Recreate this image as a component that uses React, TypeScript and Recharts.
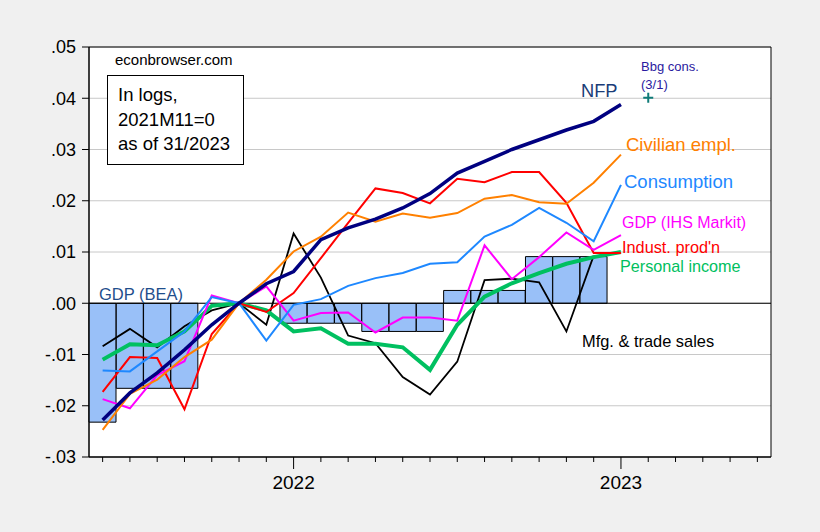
import React from "react";
import {
  ComposedChart,
  Bar,
  Line,
  XAxis,
  YAxis,
  CartesianGrid,
  ReferenceLine,
  ReferenceArea,
} from "recharts";

// monthly categories, 2021M06 .. 2023M06
const months = [
  "2021M06", "2021M07", "2021M08", "2021M09", "2021M10", "2021M11", "2021M12",
  "2022M01", "2022M02", "2022M03", "2022M04", "2022M05", "2022M06",
  "2022M07", "2022M08", "2022M09", "2022M10", "2022M11", "2022M12",
  "2023M01", "2023M02", "2023M03", "2023M04", "2023M05", "2023M06",
];

// GDP (BEA), quarterly level repeated over its months
const gdpBea = [
  -0.0232, -0.0166, -0.0166, -0.0166, 0, 0, 0,
  -0.0039, -0.0039, -0.0039, -0.0055, -0.0055, -0.0055,
  0.0025, 0.0025, 0.0025, 0.0091, 0.0091, 0.0091,
];
const nfp = [
  -0.0228, -0.0175, -0.0136, -0.0091, -0.0042, 0, 0.0038,
  0.0062, 0.0124, 0.0147, 0.0164, 0.0186, 0.0214,
  0.0254, 0.0277, 0.03, 0.0319, 0.0338, 0.0355, 0.0388,
];
const civEmpl = [
  -0.0247, -0.0177, -0.0149, -0.0105, -0.0071, 0, 0.0046,
  0.0101, 0.013, 0.0177, 0.0159, 0.0175, 0.0167,
  0.0176, 0.0204, 0.0211, 0.0197, 0.0194, 0.0235, 0.029,
];
const consumption = [
  -0.0131, -0.0133, -0.0094, -0.0055, 0.0012, 0, -0.0073,
  -0.0003, 0.0008, 0.0034, 0.0049, 0.0059, 0.0077,
  0.008, 0.013, 0.0153, 0.0186, 0.0157, 0.0121, 0.0231,
];
const gdpIhs = [
  -0.0187, -0.0205, -0.014, -0.0113, 0.0015, 0, 0.0033,
  -0.0034, -0.0019, -0.0018, -0.0057, -0.0028, -0.0028,
  -0.0034, 0.0113, 0.0047, 0.009, 0.0138, 0.0104, 0.0133,
];
const indProd = [
  -0.0173, -0.0105, -0.0107, -0.0207, -0.006, 0, -0.0017,
  0.002, 0.0088, 0.0157, 0.0224, 0.0215, 0.0195,
  0.0243, 0.0236, 0.0256, 0.0256, 0.0196, 0.0098, 0.0098,
];
const persIncome = [
  -0.011, -0.008, -0.0082, -0.0055, -0.0005, 0, -0.0014,
  -0.0055, -0.0049, -0.0079, -0.0079, -0.0086, -0.013,
  -0.0042, 0.0013, 0.0039, 0.0059, 0.0077, 0.009, 0.01,
];
const mfgSales = [
  -0.0084, -0.005, -0.0086, -0.0045, -0.0014, 0, -0.0042,
  0.0136, 0.005, -0.0063, -0.0078, -0.0144, -0.0178,
  -0.0114, 0.0045, 0.0048, 0.0041, -0.0055, 0.0093,
];
// Bloomberg consensus for NFP, 2023M02
const bbgCons = [
  null, null, null, null, null, null, null, null, null, null, null, null, null,
  null, null, null, null, null, null, null, 0.0401,
];

const yTicks = [-0.03, -0.02, -0.01, 0, 0.01, 0.02, 0.03, 0.04, 0.05];

const data = months.map((m, i) => ({
  m,
  gdp: gdpBea[i] ?? null,
  nfp: nfp[i] ?? null,
  civ: civEmpl[i] ?? null,
  cons: consumption[i] ?? null,
  ihs: gdpIhs[i] ?? null,
  ip: indProd[i] ?? null,
  pi: persIncome[i] ?? null,
  mts: mfgSales[i] ?? null,
  bbg: bbgCons[i] ?? null,
}));

const FONT = "'Liberation Sans', Arial, sans-serif";

const fmtY = (v: number) => {
  if (v === 0) return ".00";
  const s = Math.abs(v).toFixed(2).replace(/^0/, "");
  return v < 0 ? "-" + s : s;
};

function MonthTick(props: any) {
  const { x, y, payload } = props;
  const isJan = String(payload.value).endsWith("M01");
  return (
    <g>
      <line x1={x} x2={x} y1={y} y2={y + (isJan ? 12 : 5)} stroke="#000" strokeWidth={1} />
      {isJan && (
        <text x={x} y={y + 32} textAnchor="middle" fontSize={19} fontFamily={FONT} fill="#000">
          {String(payload.value).slice(0, 4)}
        </text>
      )}
    </g>
  );
}

function PlusDot(props: any) {
  const { cx, cy, index } = props;
  if (cy == null || cx == null) return <g key={"p" + index} />;
  return (
    <g key={"p" + index}>
      <line x1={cx - 5} x2={cx + 5} y1={cy} y2={cy} stroke="#0f7b78" strokeWidth={2} />
      <line x1={cx} x2={cx} y1={cy - 5} y2={cy + 5} stroke="#0f7b78" strokeWidth={2} />
    </g>
  );
}

export default function App() {
  return (
    <div style={{ position: "absolute", left: 0, top: 0, width: 820, height: 532, background: "#f0f0f0" }}>
      <ComposedChart
        width={820}
        height={532}
        data={data}
        margin={{ top: 47, right: 49, bottom: 0, left: 0 }}
        barCategoryGap={0}
        barGap={0}
      >
        <CartesianGrid vertical={false} stroke="#c8c8c8" fill="#ffffff" fillOpacity={1} />
        <XAxis
          dataKey="m"
          height={75}
          interval={0}
          tickLine={false}
          tickSize={0}
          tickMargin={0}
          axisLine={{ stroke: "#000" }}
          tick={<MonthTick />}
        />
        <YAxis
          width={89}
          domain={[-0.03, 0.05]}
          ticks={yTicks}
          tickFormatter={fmtY}
          tickSize={7}
          tickMargin={6}
          axisLine={{ stroke: "#000" }}
          tickLine={{ stroke: "#000" }}
          tick={{ fill: "#000", fontSize: 18, fontFamily: FONT }}
          allowDataOverflow
        />
        <Bar dataKey="gdp" fill="#99c0f8" stroke="#000" strokeWidth={1} isAnimationActive={false} />
        <ReferenceLine y={0} stroke="#000" strokeWidth={1} />
        <Line type="linear" dataKey="mts" stroke="#000" strokeWidth={1.8} dot={false} isAnimationActive={false} />
        <Line type="linear" dataKey="pi" stroke="#00c060" strokeWidth={4} dot={false} isAnimationActive={false} />
        <Line type="linear" dataKey="ip" stroke="#ff0000" strokeWidth={2} dot={false} isAnimationActive={false} />
        <Line type="linear" dataKey="ihs" stroke="#ff00ff" strokeWidth={2} dot={false} isAnimationActive={false} />
        <Line type="linear" dataKey="cons" stroke="#1e88ff" strokeWidth={2} dot={false} isAnimationActive={false} />
        <Line type="linear" dataKey="civ" stroke="#ff8000" strokeWidth={2} dot={false} isAnimationActive={false} />
        <Line type="linear" dataKey="nfp" stroke="#000080" strokeWidth={3.5} dot={false} isAnimationActive={false} />
        <Line dataKey="bbg" stroke="none" dot={<PlusDot />} activeDot={false} isAnimationActive={false} />
        <ReferenceArea y1={-0.03} y2={0.05} fill="none" stroke="#000" strokeWidth={1} ifOverflow="visible" />
      </ComposedChart>
      <svg
        width={820}
        height={532}
        style={{ position: "absolute", left: 0, top: 0, pointerEvents: "none" }}
        fontFamily={FONT}
      >
        <text x={115} y={65} fontSize={15} fill="#000">econbrowser.com</text>
        <rect x={107.5} y={75.5} width={136} height={89} fill="#fff" stroke="#000" strokeWidth={1} />
        <text x={118} y={101} fontSize={18.5} fill="#000">In logs,</text>
        <text x={118} y={126} fontSize={18.5} fill="#000">2021M11=0</text>
        <text x={118} y={150} fontSize={18.5} fill="#000">as of 31/2023</text>
        <rect x={96} y={287} width={97} height={15} fill="#fff" />
        <text x={99} y={300} fontSize={16.5} fill="#1f4e8c">GDP (BEA)</text>
        <text x={581} y={97} fontSize={18.3} fill="#1a3c78">NFP</text>
        <text x={641} y={71} fontSize={13} fill="#2a1aa0">Bbg cons.</text>
        <text x={641} y={89} fontSize={13} fill="#2a1aa0">(3/1)</text>
        <text x={626} y={151} fontSize={18.5} fill="#ff8000">Civilian empl.</text>
        <text x={624} y={188} fontSize={18.5} fill="#1e88ff">Consumption</text>
        <text x={622} y={228} fontSize={16} fill="#ff00ff">GDP (IHS Markit)</text>
        <text x={622} y={253} fontSize={16.3} fill="#ff0000">Indust. prod'n</text>
        <text x={620} y={272} fontSize={16.2} fill="#00c060">Personal income</text>
        <text x={582} y={347} fontSize={16.4} fill="#000">Mfg. &amp; trade sales</text>
      </svg>
    </div>
  );
}
